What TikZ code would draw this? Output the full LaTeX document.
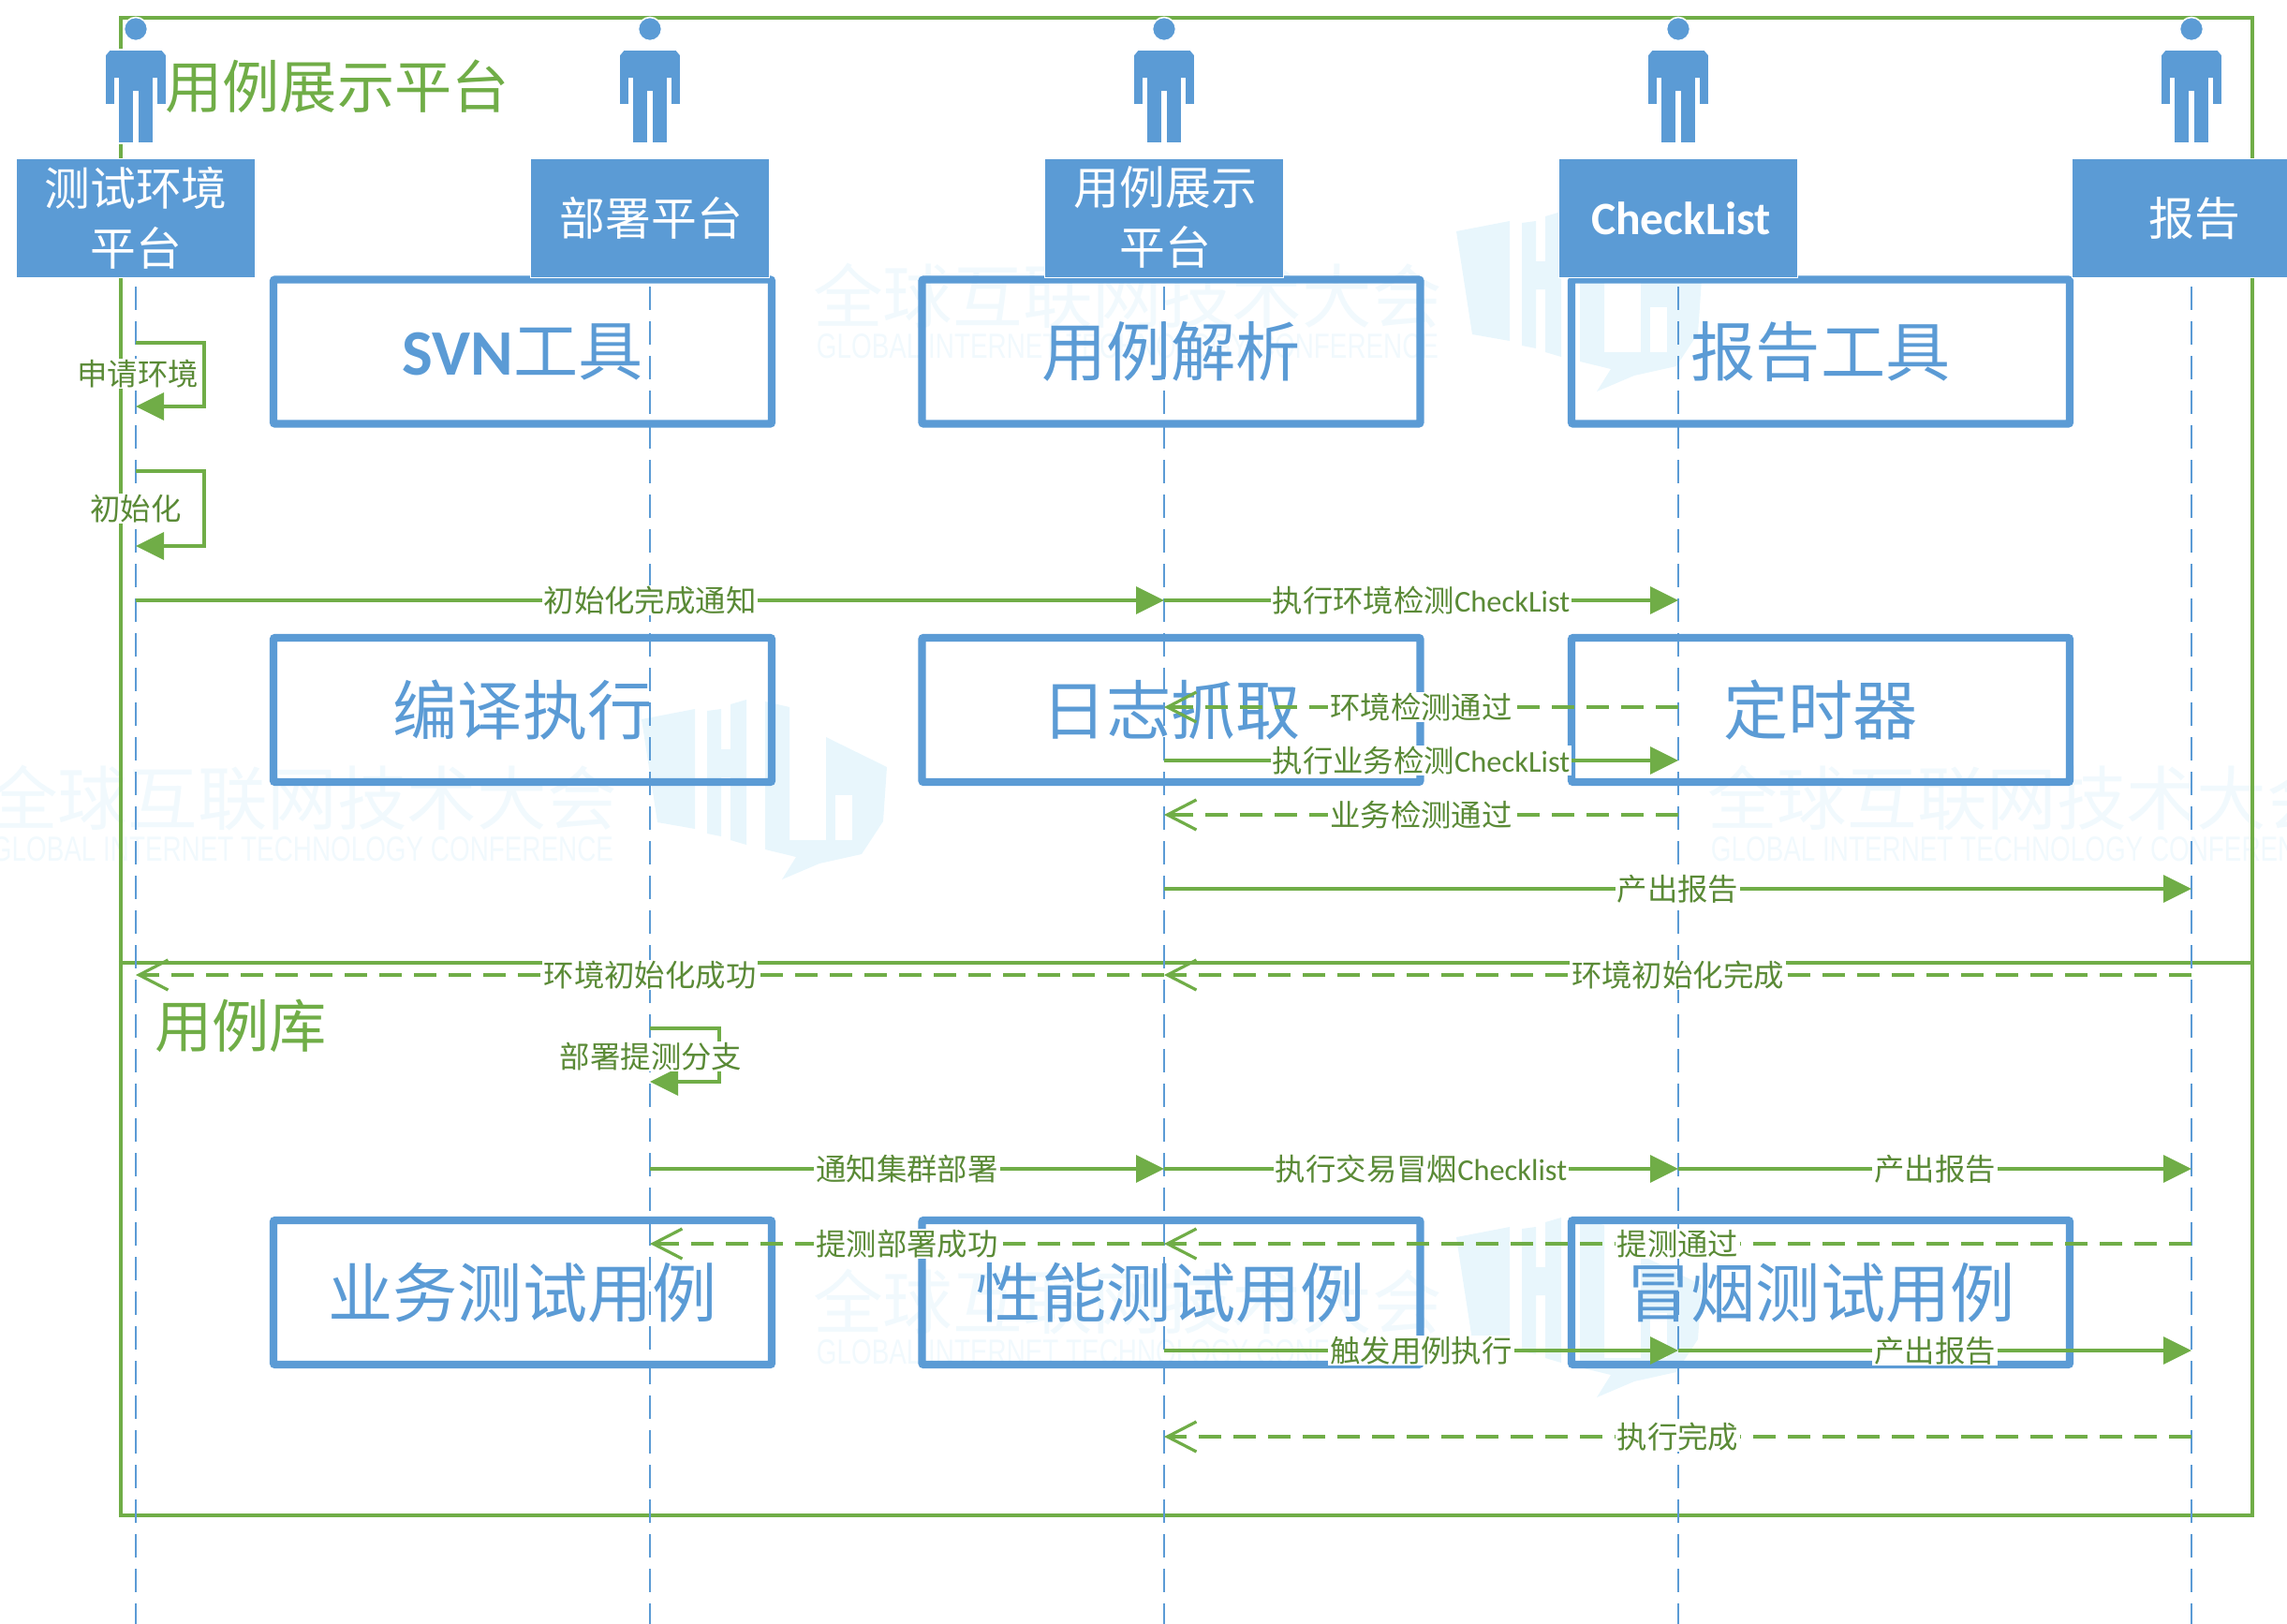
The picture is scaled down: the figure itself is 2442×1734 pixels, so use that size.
\documentclass[tikz,border=0pt]{standalone}
\usepackage{fontspec}
\usepackage{graphicx}
\setmainfont{Noto Sans CJK SC}
\newfontfamily\latfont{Carlito}
\newfontfamily\wmfont{Liberation Sans}
\usetikzlibrary{arrows.meta}
\pgfdeclarelayer{back}
\pgfsetlayers{back,main}
\definecolor{bl}{HTML}{5B9BD5}
\definecolor{gr}{HTML}{70AD47}
\definecolor{lt}{HTML}{5A8A36}
\definecolor{wm}{HTML}{E8F6FC}
\definecolor{wmt}{HTML}{F1F9FD}
\tikzset{
  x=0.5pt,y=-0.5pt,
  actorbox/.style={fill=bl,draw=white,line width=0.8pt,text=white,minimum width=127.5pt,minimum height=63.5pt,align=center,inner sep=0pt,font=\fontsize{24.4}{32}\selectfont},
  toolbox/.style={draw=bl,line width=4.2pt,rounded corners=1pt,fill=none,text=bl,minimum width=266pt,minimum height=77pt,inner sep=0pt,font=\fontsize{34.6}{40}\selectfont},
  framebox/.style={draw=gr,line width=2.2pt,minimum width=1138pt,minimum height=799.5pt,inner sep=0pt},
  heading/.style={text=gr,inner sep=0pt,font=\fontsize{30.6}{34}\selectfont},
  life/.style={draw=bl,line width=1.3pt,dash pattern=on 12.5pt off 6pt,dash phase=14pt},
  msgsolid/.style={draw=gr,line width=1.6pt,-{Triangle[length=15pt,width=14.5pt]}},
  msgdash/.style={draw=gr,line width=1.6pt,dash pattern=on 12pt off 6.5pt,-{Straight Barb[length=15.5pt,width=16pt]}},
  lbl/.style={fill=white,text=lt,inner xsep=1pt,inner ysep=0.5pt,font=\fontsize{16.2}{18}\selectfont},
  actorfig/.style={fill=bl,draw=white,line width=0.8pt},
  wmcn/.style={text=wmt,inner sep=0pt,font=\fontsize{37.3}{39}\selectfont},
  wmen/.style={text=wmt,inner sep=0pt},
}
\newcommand{\actorfigure}[1]{%
  \begin{scope}[shift={(#1,0)}]
    \path[actorfig] (0,31) circle[radius=12.5];
    \path[actorfig] (-28,53) -- (28,53) -- (33,59) -- (33,112) -- (22,112) -- (22,84) -- (19,84) -- (19,153) -- (2,153) -- (2,98) -- (-2,98) -- (-2,153) -- (-19,153) -- (-19,84) -- (-22,84) -- (-22,112) -- (-33,112) -- (-33,59) -- cycle;
  \end{scope}}
\newcommand{\wmark}[3]{%
  \node[wmcn] at (#1,#2) {全球互联网技术大会};
  \node[wmen] at (#1,#3) {\resizebox{332pt}{13pt}{\wmfont GLOBAL INTERNET TECHNOLOGY CONFERENCE}};}
\newcommand{\wlogo}[2]{%
  \begin{scope}[shift={(#1,#2)}]
    \fill[wm] (0,21) -- (57,10) -- (57,138) -- (17,131) -- cycle;
    \fill[wm] (70,12) -- (85,10) -- (85,53) -- (95,53) -- (95,5) -- (112,0) -- (112,155) -- (95,150) -- (95,83) -- (85,83) -- (85,146) -- (70,143) -- cycle;
    \fill[wm] (132,2) -- (158,8) -- (158,150) -- (197,150) -- (197,40) -- (262,72) -- (258,130) -- (235,165) -- (190,175) -- (150,192) -- (165,168) -- (132,160) -- cycle;
    \fill[white] (207,102) rectangle (225,150);
  \end{scope}}
\newcommand{\msg}[5]{%
  \draw[#1] (#2 |- 0,#4) -- node[lbl]{#5} (#3 |- 0,#4);}
\begin{document}
\begin{tikzpicture}
\useasboundingbox (0,0) rectangle (2442,1734);
% lifeline heads, on top
\node[actorbox] (a1) at (145,233) {\raisebox{2.5pt}{测试环境}\\\raisebox{2.5pt}{平台}};
\node[actorbox] (a2) at (694,233) {\hspace{1.5pt}部署平台};
\node[actorbox] (a3) at (1243,233) {\raisebox{2.5pt}{\hspace{1.5pt}用例展示}\\\raisebox{2.5pt}{\hspace{1.5pt}平台}};
\node[actorbox] (a4) at (1792,233) {\hspace{3pt}\fontsize{24.8}{30}\selectfont\latfont\bfseries CheckList};
\node[actorbox] (a5) at (2340,233) {\hspace{3pt}报告};
\foreach \i in {1,...,5} {\coordinate (e\i) at (a\i |- 0,1745);}
\begin{pgfonlayer}{back}
  \wlogo{1555}{226}
  \wlogo{685}{747}
  \wlogo{1555}{1300}
  \wmark{1204}{316}{370}
  \wmark{323}{852}{907}
  \wmark{2159}{852}{907}
  \wmark{1204}{1390}{1444}
  \node[framebox] (frame) at (1267,818.5) {};
  \coordinate (dv) at (0,1028);
  \draw[gr,line width=2.2pt] (frame.west |- dv) -- (frame.east |- dv);
  \node[heading] (t1) at (360,92) {用例展示平台};
  \node[heading] (t2) at (257,1095) {用例库};
  \node[toolbox] (b11) at (558,375.5) {\latfont\bfseries SVN\normalfont\fontspec{Noto Sans CJK SC}工具};
  \node[toolbox] (b12) at (1250.5,375.5) {用例解析};
  \node[toolbox] (b13) at (1944,375.5) {报告工具};
  \node[toolbox] (b21) at (558,758) {编译执行};
  \node[toolbox] (b22) at (1250.5,758) {日志抓取};
  \node[toolbox] (b23) at (1944,758) {定时器};
  \node[toolbox] (b31) at (558,1380) {\raisebox{-1.5pt}{业务测试用例}};
  \node[toolbox] (b32) at (1250.5,1380) {\raisebox{-1.5pt}{性能测试用例}};
  \node[toolbox] (b33) at (1944,1380) {\raisebox{-1.5pt}{冒烟测试用例}};
  \foreach \i in {1,...,5} {\draw[life] (a\i) -- (e\i);}
\end{pgfonlayer}
\foreach \x in {145,694,1243,1792,2340} {\actorfigure{\x}}
% self messages
\coordinate (s1a) at (218,366); \coordinate (s1b) at (218,434);
\draw[msgsolid] (a1 |- s1a) -- (s1a) -- (s1b) -- (a1 |- s1b);
\node[lbl] (l1) at (147,399) {申请环境};
\coordinate (s2a) at (218,503); \coordinate (s2b) at (218,583);
\draw[msgsolid] (a1 |- s2a) -- (s2a) -- (s2b) -- (a1 |- s2b);
\node[lbl] (l2) at (145,543) {初始化};
\coordinate (s3a) at (768,1098); \coordinate (s3b) at (768,1155);
\draw[msgsolid] (a2 |- s3a) -- (s3a) -- (s3b) -- (a2 |- s3b);
\node[lbl] (l3) at (695,1128) {部署提测分支};
% messages
\msg{msgsolid}{a1}{a3}{641}{初始化完成通知}
\msg{msgsolid}{a3}{a4}{641}{执行环境检测\latfont CheckList}
\msg{msgdash}{a4}{a3}{755}{环境检测通过}
\msg{msgsolid}{a3}{a4}{812}{执行业务检测\latfont CheckList}
\msg{msgdash}{a4}{a3}{870}{业务检测通过}
\msg{msgsolid}{a3}{a5}{949}{产出报告}
\msg{msgdash}{a3}{a1}{1041}{环境初始化成功}
\msg{msgdash}{a5}{a3}{1041}{环境初始化完成}
\msg{msgsolid}{a2}{a3}{1248}{通知集群部署}
\msg{msgsolid}{a3}{a4}{1248}{执行交易冒烟\latfont Checklist}
\msg{msgsolid}{a4}{a5}{1248}{产出报告}
\msg{msgdash}{a3}{a2}{1328}{提测部署成功}
\msg{msgdash}{a5}{a3}{1328}{提测通过}
\msg{msgsolid}{a3}{a4}{1442}{触发用例执行}
\msg{msgsolid}{a4}{a5}{1442}{产出报告}
\msg{msgdash}{a5}{a3}{1534}{执行完成}
\end{tikzpicture}
\end{document}
